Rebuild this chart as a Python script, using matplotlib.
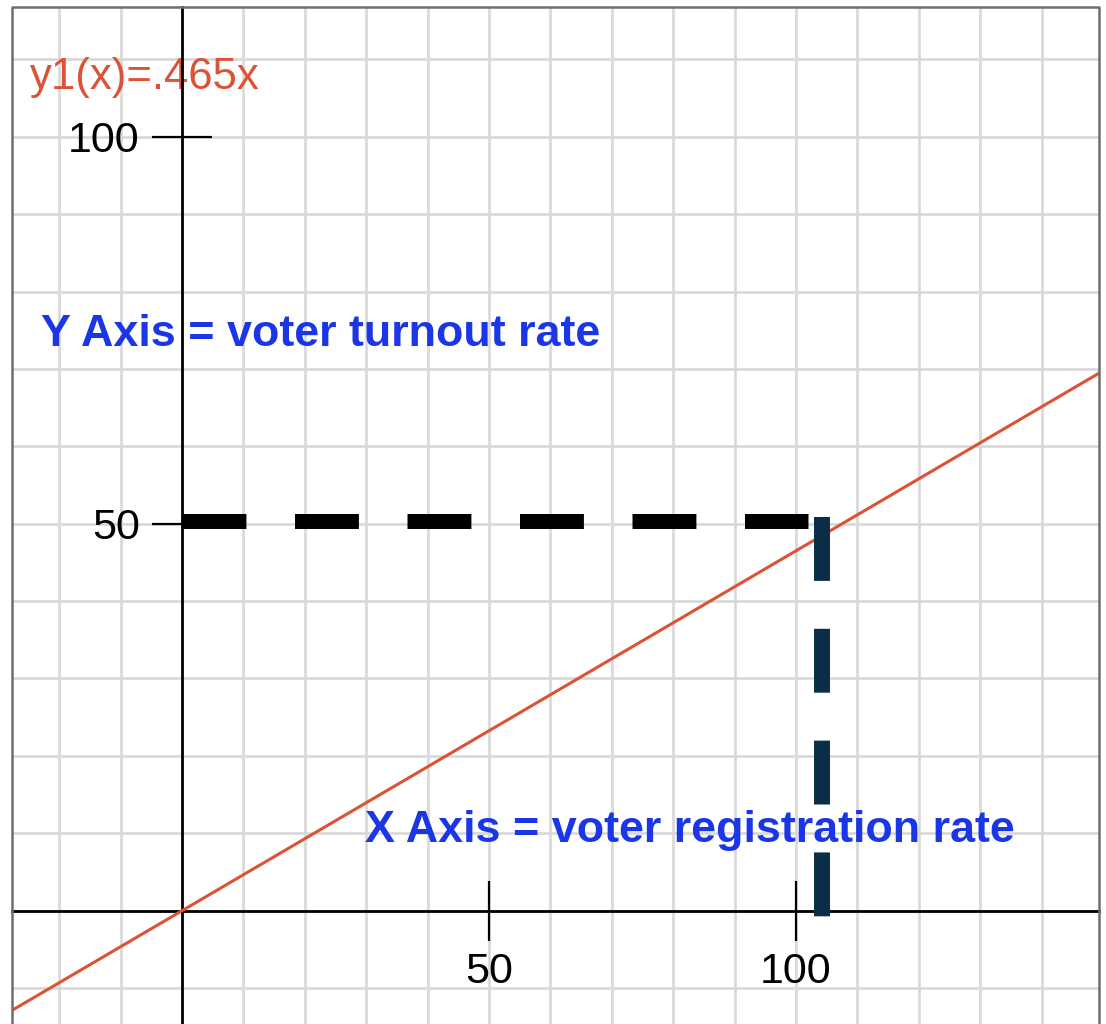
import matplotlib
matplotlib.use('Agg')
import matplotlib.pyplot as plt
from matplotlib.ticker import MultipleLocator

# data
slope = 0.465
line_x = [-30, 150]
x_ticks = [50, 100]
y_ticks = [50, 100]
x_limits = (-27.7, 149.35)
y_limits = (-14.64, 116.76)

turnout_y = 50.4          # black dashed guide
turnout_x = [0, 102]
registration_x = 104.2    # navy dashed guide
registration_y = [50.9, -0.8]

eq_label = 'y1(x)=.465x'
y_axis_label = 'Y Axis = voter turnout rate'
x_axis_label = 'X Axis = voter registration rate'

red = '#dc5236'
navy = '#0b2e48'
blue = '#1a36e6'

plt.rcParams['font.family'] = ['Liberation Sans', 'DejaVu Sans']

fig = plt.figure(figsize=(11.06, 10.24), dpi=100)
ax = fig.add_axes([12 / 1106, 0, (1099 - 12) / 1106, (1024 - 7) / 1024])
ax.set_xlim(*x_limits)
ax.set_ylim(*y_limits)

# graph paper grid every 10 units
ax.xaxis.set_minor_locator(MultipleLocator(10))
ax.yaxis.set_minor_locator(MultipleLocator(10))
ax.set_xticks(x_ticks)
ax.set_yticks(y_ticks)
ax.grid(which='both', color='#d8d8d8', lw=1.9, zorder=0)
ax.set_axisbelow(True)

# axes through the origin
for side in ['top', 'right']:
    ax.spines[side].set_visible(False)
ax.spines['left'].set_position(('data', 0))
ax.spines['bottom'].set_position(('data', 0))
for side in ['left', 'bottom']:
    ax.spines[side].set_linewidth(2.0)
    ax.spines[side].set_zorder(3)
ax.tick_params(which='minor', length=0)
ax.tick_params(which='major', direction='inout', length=43, width=1.6,
               labelsize=31, color='black')
ax.tick_params(axis='y', pad=9)
ax.tick_params(axis='x', pad=8)

# outer gray frame (left, top, right)
ax.plot([0, 0, 1, 1], [0, 1, 1, 0], transform=ax.transAxes,
        color='#6e6e6e', lw=1.8, clip_on=False, zorder=5)

# the fitted line
ax.plot(line_x, [slope * x for x in line_x], color=red, lw=2.2, zorder=4)

# guides
ax.plot(turnout_x, [turnout_y, turnout_y], color='black', lw=10.8,
        dashes=(4.26, 3.24), solid_capstyle='butt', zorder=4)
ax.plot([registration_x, registration_x], registration_y, color=navy,
        lw=11.5, dashes=(4.0, 3.0), zorder=6)

# annotations
ax.text(-24.7, 107.6, eq_label, color=red, fontsize=31.5, ha='left', va='center')
ax.text(-23, 74.4, y_axis_label, color=blue, fontsize=32.3,
        fontweight='bold', ha='left', va='center', zorder=7)
ax.text(29.8, 10.3, x_axis_label, color=blue, fontsize=32.3,
        fontweight='bold', ha='left', va='center', zorder=7)

fig.savefig('out.png', dpi=100)
